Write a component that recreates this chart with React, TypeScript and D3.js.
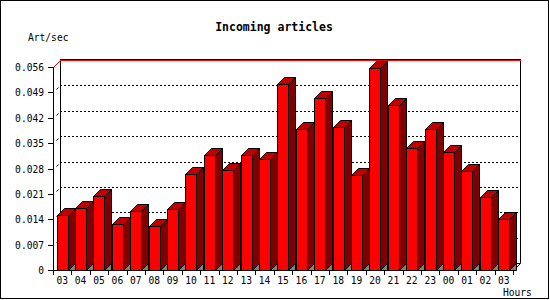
import React from "react";
import * as d3 from "d3";

const hours = ["03","04","05","06","07","08","09","10","11","12","13","14","15","16","17","18","19","20","21","22","23","00","01","02","03"];
const rates = [0.0152,0.0170,0.0204,0.0127,0.0162,0.0121,0.0167,0.0264,0.0316,0.0275,0.0316,0.0305,0.0512,0.0388,0.0474,0.0394,0.0261,0.0556,0.0454,0.0336,0.0388,0.0325,0.0272,0.0201,0.0140];
const yTicks = [0,0.007,0.014,0.021,0.028,0.035,0.042,0.049,0.056];
const yTickLabels = ["0","0.007","0.014","0.021","0.028","0.035","0.042","0.049","0.056"];

const W = 550, H = 300;
const D = 7; // 3D depth
const X0 = 53, X1 = 513, Y0 = 270, Y1 = 67;
const BW = 11;
const font = "'DejaVu Sans Mono', monospace";

export default function App() {
  const x = d3.scaleLinear().domain([0, hours.length]).range([X0, X1]);
  const y = d3.scaleLinear().domain([0, 0.056]).range([Y0, Y1]);
  const B = Y0 + 0.5;
  const pts = (a: number[][]) => a.map(p => p.join(",")).join(" ");

  return (
    <svg width={W} height={H} style={{ position: "absolute", left: 0, top: 0, background: "#fff" }}>
      <rect x={0.5} y={0.5} width={W - 2} height={H - 2} fill="#fff" stroke="#000" />
      <text x={274} y={31} textAnchor="middle" fontFamily={font} fontWeight="bold" fontSize={11.5}>Incoming articles</text>
      <text x={28} y={41} fontFamily={font} fontSize={9.6}>Art/sec</text>
      <text x={503} y={296} fontFamily={font} fontSize={9.6}>Hours</text>

      {/* back wall gridlines */}
      {yTicks.slice(1, -1).map((t, i) => (
        <line key={"g" + i} x1={X0 + D} x2={X1 + D} y1={Math.round(y(t)) - D + 0.5} y2={Math.round(y(t)) - D + 0.5}
          stroke="#000" strokeDasharray="2,2" />
      ))}
      {/* back frame */}
      <line x1={X0 + D + 0.5} x2={X0 + D + 0.5} y1={Y1 - D} y2={Y0 - D} stroke="#000" />
      <line x1={X1 + D + 0.5} x2={X1 + D + 0.5} y1={Y1 - D} y2={Y0 - D + 0.5} stroke="#000" />
      <line x1={X0 + D} x2={X1 + D + 1} y1={Y1 - D - 0.5} y2={Y1 - D - 0.5} stroke="#000" />
      <line x1={X0 + D} x2={X1 + D + 1} y1={Y1 - D + 0.5} y2={Y1 - D + 0.5} stroke="#f00" />
      <line x1={X0 + 0.5} y1={Y1 + 0.5} x2={X0 + D + 0.5} y2={Y1 - D + 0.5} stroke="#f00" />
      <line x1={X0 + D} x2={X1 + D} y1={Y0 - D + 0.5} y2={Y0 - D + 0.5} stroke="#000" />
      <line x1={X1 + 0.5} y1={Y0 + 0.5} x2={X1 + D + 0.5} y2={Y0 - D + 0.5} stroke="#000" />
      {/* small floor slashes */}
      {yTicks.slice(1, -1).map((t, i) => {
        const ty = Math.round(y(t));
        return <line key={"s" + i} x1={X0 + 3.5} y1={ty - 2.5} x2={X0 + 5.5} y2={ty - 4.5} stroke="#000" />;
      })}

      {/* bars */}
      {rates.map((v, i) => {
        const L = Math.round(x(i) + 3.5) + 0.5;
        const T = Math.round(y(v)) + 0.5;
        return (
          <g key={"b" + i} stroke="#000" strokeWidth={1}>
            <polygon points={pts([[L + BW, B], [L + BW + D, B - D], [L + BW + D, B]])} fill="#808080" />
            <polygon points={pts([[L + BW, T], [L + BW + D, T - D], [L + BW + D, B - D], [L + BW, B]])} fill="#800000" />
            <polygon points={pts([[L, T], [L + D, T - D], [L + BW + D, T - D], [L + BW, T]])} fill="#c00000" />
            <rect x={L} y={T} width={BW} height={B - T} fill="#ff0000" />
          </g>
        );
      })}

      {/* front axes */}
      <line x1={X0 + 0.5} x2={X0 + 0.5} y1={Y1} y2={Y0 + 1} stroke="#000" />
      <line x1={X0} x2={X1 + 1} y1={Y0 + 0.5} y2={Y0 + 0.5} stroke="#000" />
      {yTicks.map((t, i) => {
        const ty = Math.round(y(t)) + 0.5;
        return (
          <g key={"y" + i}>
            <line x1={X0 - 5} x2={X0} y1={ty} y2={ty} stroke="#000" />
            <text x={44} y={ty + 3.5} textAnchor="end" fontFamily={font} fontSize={9.6}>{yTickLabels[i]}</text>
          </g>
        );
      })}
      {d3.range(hours.length + 1).map(i => (
        <line key={"xt" + i} x1={Math.round(x(i)) + 0.5} x2={Math.round(x(i)) + 0.5} y1={Y0} y2={Y0 + 5} stroke="#000" />
      ))}
      {hours.map((h, i) => (
        <text key={"xl" + i} x={x(i + 0.5)} y={284} textAnchor="middle" fontFamily={font} fontSize={9.6}>{h}</text>
      ))}
    </svg>
  );
}
